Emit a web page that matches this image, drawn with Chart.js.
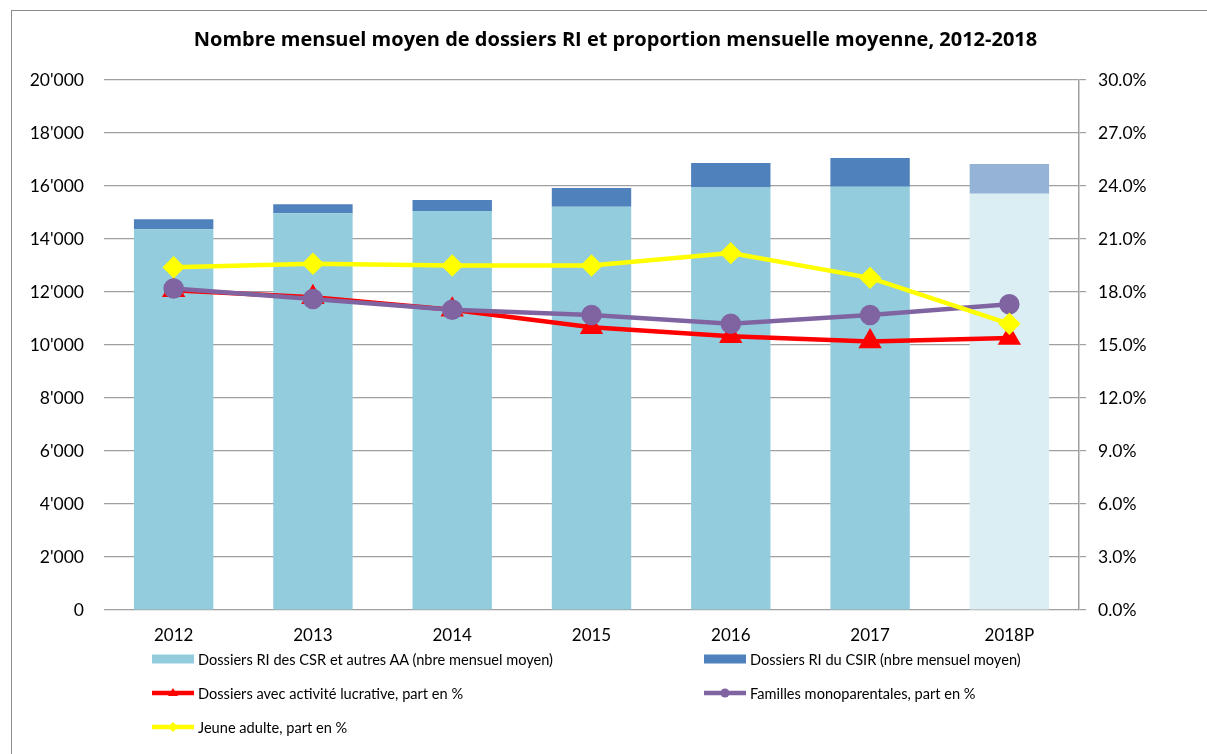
<!DOCTYPE html>
<html lang="fr">
<head>
  <meta charset="UTF-8">
  <title>Dossiers RI 2012-2018</title>
  <script src="https://cdn.jsdelivr.net/npm/chart.js"></script>
  <style>
    body { margin: 0; background: #fff; font-family: Lato, "Open Sans", sans-serif; }
    #cadre { position: relative; width: 1207px; height: 754px; overflow: hidden; }
    #bordure { position: absolute; left: 11px; top: 10px; width: 1300px; height: 900px; border: 1.5px solid #8c8c8c; pointer-events: none; }
    #legende { position: absolute; left: 0; top: 0; width: 1207px; height: 754px; pointer-events: none; }
    .item { position: absolute; display: flex; align-items: center; font-size: 14.6px; color: #000; white-space: nowrap; }
    .item svg { margin-right: 4px; }
  </style>
</head>
<body>

<div id="cadre">
  <canvas id="graphique" width="1207" height="754"></canvas>
  <div id="bordure"></div>
  <div id="legende"></div>
</div>

<script>
// données
const annees = ['2012', '2013', '2014', '2015', '2016', '2017', '2018P'];
const dossiersCSR = [14370, 14970, 15060, 15220, 15940, 15975, 15710];
const dossiersCSIR = [375, 340, 410, 705, 930, 1080, 1120];
const activiteLucrative = [18.1, 17.7, 17.0, 16.0, 15.5, 15.2, 15.4];
const famillesMono = [18.2, 17.6, 17.0, 16.7, 16.2, 16.7, 17.3];
const jeuneAdulte = [19.4, 19.6, 19.5, 19.5, 20.2, 18.8, 16.2];

const titre = 'Nombre mensuel moyen de dossiers RI et proportion mensuelle moyenne, 2012-2018';
const labelsSeries = [
  'Dossiers RI des CSR et autres AA (nbre mensuel moyen)',
  'Dossiers RI du CSIR (nbre mensuel moyen)',
  'Dossiers avec activité lucrative, part en %',
  'Familles monoparentales, part en %',
  'Jeune adulte, part en %'
];

const police = 'Lato, "Open Sans", sans-serif';
const gris = '#a0a0a0';

// 2018P = provisoire, couleurs plus claires
const couleurCSR = annees.map(a => a.endsWith('P') ? '#dbeef3' : '#93cddd');
const couleurCSIR = annees.map(a => a.endsWith('P') ? '#95b3d7' : '#4f81bd');

function milliers(v) {
  return String(v).replace(/\B(?=(\d{3})+(?!\d))/g, "'");
}

const datasets = [
  { type: 'bar', label: labelsSeries[0], data: dossiersCSR, backgroundColor: couleurCSR,
    yAxisID: 'y', stack: 'ri', order: 10, barPercentage: 0.57, categoryPercentage: 1.0 },
  { type: 'bar', label: labelsSeries[1], data: dossiersCSIR, backgroundColor: couleurCSIR,
    yAxisID: 'y', stack: 'ri', order: 10, barPercentage: 0.57, categoryPercentage: 1.0 },
  { type: 'line', label: labelsSeries[2], data: activiteLucrative, borderColor: '#ff0000',
    backgroundColor: '#ff0000', borderWidth: 4.5, pointStyle: 'triangle', pointRadius: 9,
    yAxisID: 'y1', order: 3, tension: 0 },
  { type: 'line', label: labelsSeries[3], data: famillesMono, borderColor: '#8064a2',
    backgroundColor: '#8064a2', borderWidth: 4.5, pointStyle: 'circle', pointRadius: 8,
    yAxisID: 'y1', order: 2, tension: 0 },
  { type: 'line', label: labelsSeries[4], data: jeuneAdulte, borderColor: '#ffff00',
    backgroundColor: '#ffff00', borderWidth: 4.5, pointStyle: 'rectRot', pointRadius: 8,
    yAxisID: 'y1', order: 1, tension: 0 }
];

const ctx = document.getElementById('graphique').getContext('2d');
const chart = new Chart(ctx, {
  data: { labels: annees, datasets: datasets },
  options: {
    responsive: false,
    animation: false,
    layout: { padding: { left: 24, right: 0, top: 20, bottom: 0 } },
    plugins: {
      legend: { display: false },
      tooltip: { enabled: false },
      title: {
        display: true, text: titre, color: '#000',
        font: { family: '"Open Sans", Lato, sans-serif', size: 20, weight: 'bold' },
        padding: { top: 8, bottom: 28 }
      }
    },
    scales: {
      x: {
        stacked: true,
        grid: { display: false, drawTicks: false },
        border: { display: false },
        ticks: { color: '#000', padding: 15, font: { family: police, size: 17 } },
        afterFit: s => { s.height = 144; }
      },
      y: {
        stacked: true, position: 'left', min: 0, max: 20000,
        grid: { color: gris, lineWidth: 1.2, drawTicks: false },
        border: { display: false },
        ticks: { stepSize: 2000, color: '#000', padding: 20, font: { family: police, size: 17.5 },
          callback: v => milliers(v) },
        afterFit: s => { s.width = 80; }
      },
      y1: {
        position: 'right', min: 0, max: 30,
        grid: { drawOnChartArea: false, color: gris, lineWidth: 1.2, tickLength: 7 },
        border: { display: true, color: gris, width: 1.5 },
        ticks: { stepSize: 3, color: '#000', padding: 12, font: { family: police, size: 17.5 },
          callback: v => v.toFixed(1) + '%' },
        afterFit: s => { s.width = 128; }
      }
    }
  }
});

// légende sur deux colonnes, comme l'original
const positions = [[152, 659], [704, 659], [152, 693], [704, 693], [152, 727]];
const legende = document.getElementById('legende');
datasets.forEach((d, i) => {
  const div = document.createElement('div');
  div.className = 'item';
  div.style.left = positions[i][0] + 'px';
  div.style.top = (positions[i][1] - 10) + 'px';
  div.style.height = '20px';
  let svg;
  if (d.type === 'bar') {
    const c = d.backgroundColor[0];
    svg = `<svg width="42" height="20"><rect x="0" y="5.5" width="42" height="9" fill="${c}"/></svg>`;
  } else {
    const c = d.borderColor;
    let m = '';
    if (d.pointStyle === 'triangle') m = `<polygon points="21,5 26,13 16,13" fill="${c}"/>`;
    else if (d.pointStyle === 'circle') m = `<circle cx="21" cy="10" r="4.5" fill="${c}"/>`;
    else m = `<polygon points="21,5 26,10 21,15 16,10" fill="${c}"/>`;
    svg = `<svg width="42" height="20"><line x1="0" y1="10" x2="42" y2="10" stroke="${c}" stroke-width="4.5" stroke-linecap="round"/>${m}</svg>`;
  }
  div.innerHTML = svg + '<span>' + d.label + '</span>';
  legende.appendChild(div);
});
</script>

</body>
</html>
